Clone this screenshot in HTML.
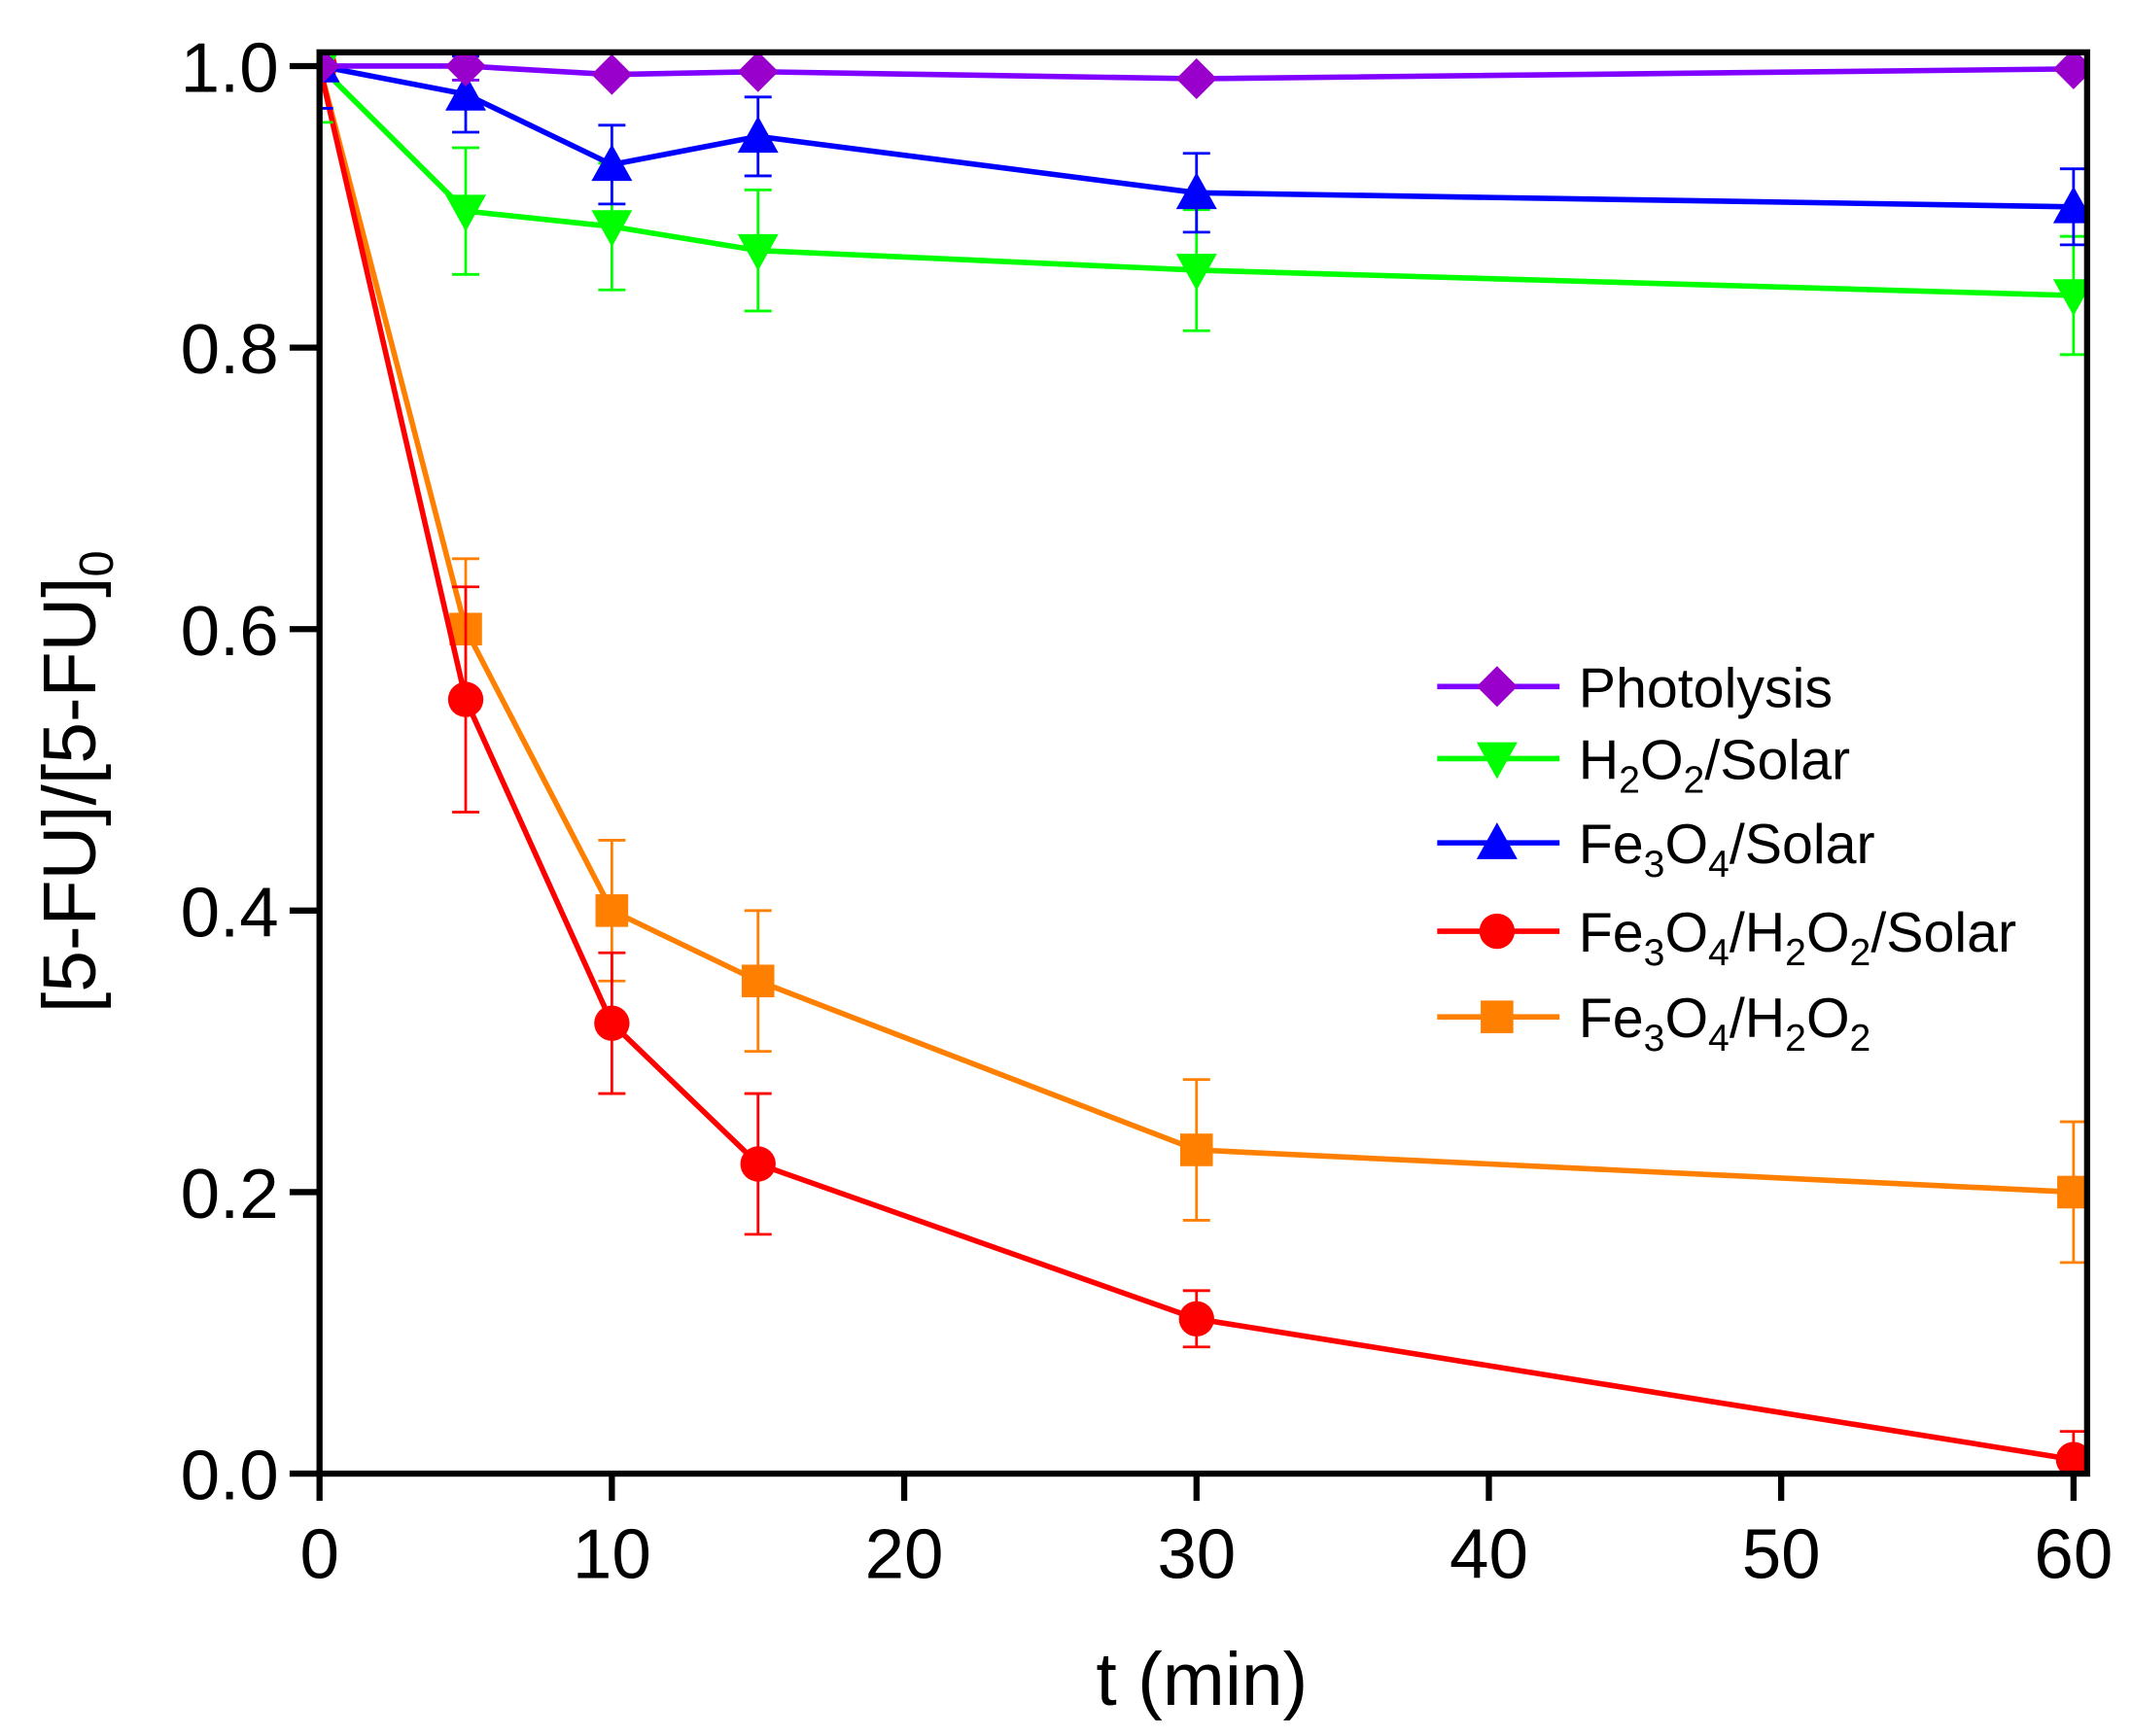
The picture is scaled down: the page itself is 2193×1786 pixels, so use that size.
<!DOCTYPE html>
<html><head><meta charset="utf-8"><style>html,body{margin:0;padding:0;background:#fff}svg{display:block}</style></head>
<body>
<svg id="s" width="2193" height="1786" viewBox="0 0 1568 1277" xmlns="http://www.w3.org/2000/svg" font-family="Liberation Sans, Arial, sans-serif">
<defs><clipPath id="cp"><rect x="235" y="38.5" width="1300" height="1045.5"/></clipPath></defs>
<rect width="1568" height="1277" fill="#fff"/>
<g id="data" clip-path="url(#cp)"></g>
<rect x="235" y="38.5" width="1300" height="1045.5" fill="none" stroke="#000" stroke-width="4.5"/>
<g stroke="#000" stroke-width="4.5" id="ticks"></g>
<g font-size="52" fill="#000" id="labels"></g>
<text x="884" y="1254" font-size="55" text-anchor="middle">t (min)</text>
<text transform="translate(70,575) rotate(-90)" font-size="55" text-anchor="middle">[5-FU]/[5-FU]<tspan font-size="35" dy="13">0</tspan></text>
<g id="legend" font-size="41"></g>
</svg>
<script>
const NS="http://www.w3.org/2000/svg";
const X=t=>235+t*21.5, Y=v=>48.6+(1-v)*1035.4;
function el(p,tag,a,txt){const e=document.createElementNS(NS,tag);for(const k in a)e.setAttribute(k,a[k]);if(txt!==undefined)e.textContent=txt;p.appendChild(e);return e;}
const T=[0,5,10,15,30,60];
const S=[
 {c:"#8000ff",mc:"#9900cc",m:"d",v:[1,1,0.994,0.996,0.991,0.998],e:[0,0.01,0.003,0.003,0.003,0.003]},
 {c:"#00ff00",mc:"#00ff00",m:"v",v:[1,0.897,0.886,0.869,0.855,0.837],e:[0.04,0.045,0.045,0.043,0.043,0.042]},
 {c:"#0000ff",mc:"#0000ff",m:"^",v:[1,0.98,0.93,0.95,0.91,0.90],e:[0.03,0.027,0.028,0.028,0.028,0.027]},
 {c:"#ff0000",mc:"#ff0000",m:"o",v:[1,0.55,0.32,0.22,0.11,0.01],e:[0,0.08,0.05,0.05,0.02,0.02]},
 {c:"#ff8000",mc:"#ff8000",m:"s",v:[1,0.60,0.40,0.35,0.23,0.20],e:[0,0.05,0.05,0.05,0.05,0.05]}
];
function marker(g,m,x,y,col){
 if(m==="d")el(g,"polygon",{points:`${x},${y-15} ${x+15},${y} ${x},${y+15} ${x-15},${y}`,fill:col});
 if(m==="v")el(g,"polygon",{points:`${x-15},${y-12} ${x+15},${y-12} ${x},${y+15}`,fill:col});
 if(m==="^")el(g,"polygon",{points:`${x-15},${y+12} ${x+15},${y+12} ${x},${y-15}`,fill:col});
 if(m==="o")el(g,"circle",{cx:x,cy:y,r:13,fill:col});
 if(m==="s")el(g,"rect",{x:x-12,y:y-12,width:24,height:24,fill:col});
}
const d=document.getElementById("data");
[4,3,1,2,0].forEach(i=>{const s=S[i];
 T.forEach((t,j)=>{if(!s.e[j])return;const x=X(t),y1=Y(s.v[j]+s.e[j]),y2=Y(s.v[j]-s.e[j]);
  el(d,"path",{d:`M${x},${y1}V${y2}M${x-10},${y1}H${x+10}M${x-10},${y2}H${x+10}`,stroke:s.c,"stroke-width":2,fill:"none"});});
 el(d,"polyline",{points:T.map((t,j)=>X(t)+","+Y(s.v[j])).join(" "),fill:"none",stroke:s.c,"stroke-width":4});
 T.forEach((t,j)=>marker(d,s.m,X(t),Y(s.v[j]),s.mc));
});
const tk=document.getElementById("ticks"),lb=document.getElementById("labels");
for(let i=0;i<=5;i++){const v=i*0.2,y=Y(v);el(tk,"line",{x1:213,x2:235,y1:y,y2:y});el(lb,"text",{x:205,y:y+19,"text-anchor":"end"},v.toFixed(1));}
for(let t=0;t<=60;t+=10){const x=X(t);el(tk,"line",{x1:x,x2:x,y1:1084,y2:1104});el(lb,"text",{x:x,y:1161,"text-anchor":"middle"},String(t));}
const lg=document.getElementById("legend");
const sb=n=>`<tspan dy='10' font-size='28'>${n}</tspan><tspan dy='-10'>`;
const names=["Photolysis","H"+sb(2)+"O</tspan>"+sb(2)+"/Solar</tspan>",
"Fe"+sb(3)+"O</tspan>"+sb(4)+"/Solar</tspan>",
"Fe"+sb(3)+"O</tspan>"+sb(4)+"/H</tspan>"+sb(2)+"O</tspan>"+sb(2)+"/Solar</tspan>",
"Fe"+sb(3)+"O</tspan>"+sb(4)+"/H</tspan>"+sb(2)+"O</tspan><tspan dy='10' font-size='28'>2</tspan>"];
const LY=[505,558,620,685,748];
S.forEach((s,i)=>{el(lg,"line",{x1:1057,x2:1147,y1:LY[i],y2:LY[i],stroke:s.c,"stroke-width":4});marker(lg,s.m,1101,LY[i],s.mc);
 const t=el(lg,"text",{x:1161,y:LY[i]+15});t.innerHTML=names[i];});
</script>
</body></html>
